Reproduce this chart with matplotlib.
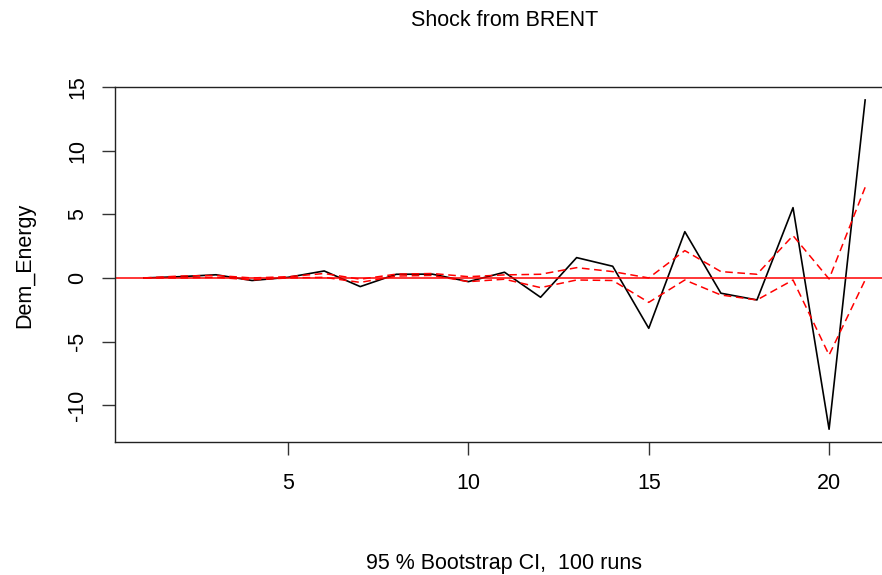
import numpy as np
import matplotlib.pyplot as plt

# impulse response of Dem_Energy to a BRENT shock, with bootstrap bounds
horizon = np.arange(1, 22)
irf = [0.0, 0.1, 0.25, -0.2, 0.05, 0.55, -0.68, 0.29, 0.3, -0.29, 0.45,
       -1.52, 1.6, 0.92, -3.96, 3.64, -1.2, -1.73, 5.53, -11.9, 14.0]
upper = [0.0, 0.15, 0.2, 0.0, 0.1, 0.35, -0.1, 0.3, 0.35, 0.1, 0.24,
         0.29, 0.81, 0.5, 0.0, 2.15, 0.5, 0.29, 3.33, -0.08, 7.13]
lower = [0.0, 0.0, 0.05, -0.15, 0.0, 0.05, -0.35, 0.15, 0.2, -0.29, -0.1,
         -0.76, -0.16, -0.2, -1.92, -0.16, -1.34, -1.73, -0.16, -6.06, -0.16]

title = "Shock from BRENT"
ylabel = "Dem_Energy"
xlabel = "95 % Bootstrap CI,  100 runs"
xticks = [5, 10, 15, 20]
yticks = [-10, -5, 0, 5, 10, 15]

plt.rcParams['font.family'] = ['Liberation Sans', 'DejaVu Sans']
fs = 15.5

fig = plt.figure(figsize=(8.82, 5.75), dpi=100)
ax = fig.add_axes([115 / 882, 1 - 441.7 / 575, (894 - 115) / 882, (441.7 - 87) / 575])

ax.plot(horizon, irf, color="black", lw=1.2)
ax.plot(horizon, upper, color="red", lw=1.1, ls=(0, (5, 3)))
ax.plot(horizon, lower, color="red", lw=1.1, ls=(0, (5, 3)))
ax.axhline(0, color="red", lw=1.1)

ax.set_xlim(0.2, 21.8)
ax.set_ylim(-12.88, 15.02)
ax.set_xticks(xticks)
ax.set_yticks(yticks)
ax.set_yticklabels([str(t) for t in yticks], rotation=90, va="center")
ax.tick_params(axis="both", length=9.5, width=1, labelsize=fs, color="#333333")
ax.tick_params(axis="x", pad=13)
ax.tick_params(axis="y", pad=10)
for s in ax.spines.values():
    s.set_color("#222222")
    s.set_linewidth(1)
ax.spines["right"].set_visible(False)

fig.text(504.5 / 882, 1 - 20 / 575, title, ha="center", va="center", fontsize=fs)
fig.text(504.5 / 882, 1 - 563 / 575, xlabel, ha="center", va="center", fontsize=fs)
fig.text(25 / 882, 1 - 265 / 575, ylabel, ha="center", va="center", rotation=90, fontsize=fs)

fig.savefig("out.png", dpi=100)
